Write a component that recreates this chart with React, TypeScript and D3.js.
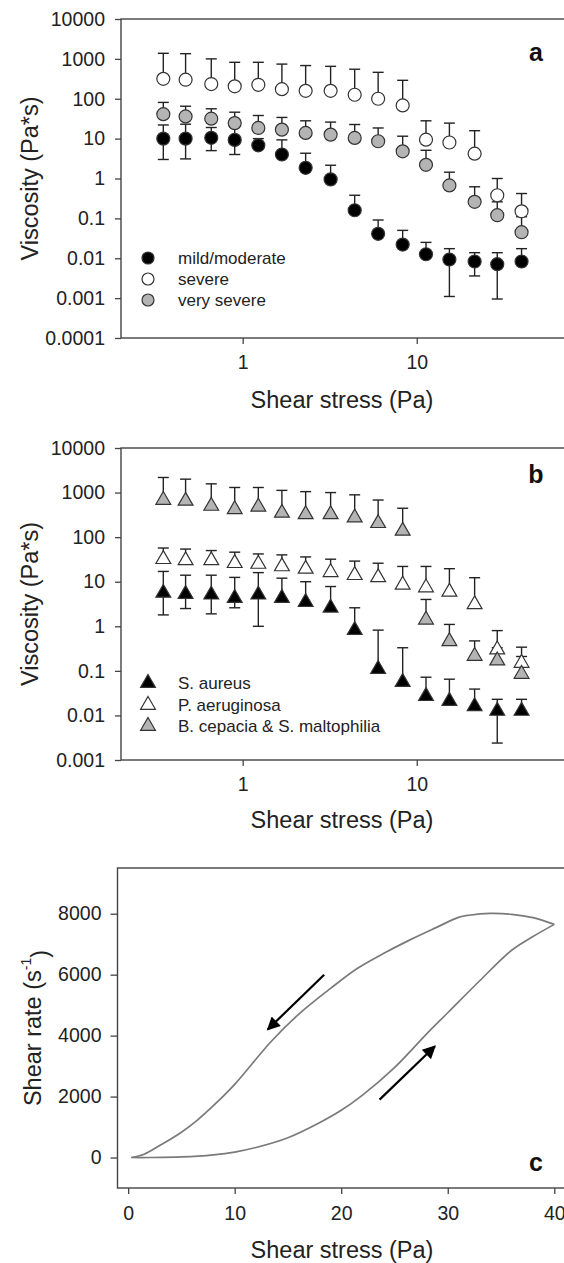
import React, { useEffect, useRef } from 'react';
import * as d3 from 'd3';

// ---------- shared x values (shear stress, Pa) ----------
const shearStress = [0.35, 0.47, 0.66, 0.9, 1.23, 1.68, 2.3, 3.2, 4.4, 6.0, 8.3, 11.3, 15.4, 21.5, 29, 40];

// ---------- panel a ----------
const mildMean = [10, 10, 10.5, 9.3, 6.8, 4.0, 1.85, 0.95, 0.16, 0.041, 0.022, 0.0126, 0.0093, 0.0083, 0.0071, 0.0083];
const mildUpper = [22, 23, 19, 20, 10, 9.3, 4.3, 2.15, 0.38, 0.091, 0.05, 0.025, 0.0174, 0.0138, 0.0138, 0.0174];
const mildLower: (number | null)[] = [3.0, 3.1, 5.0, 4.0, null, null, null, null, null, null, null, null, 0.0011, 0.0036, 0.00095, null];

const severeMean = [316, 300, 234, 205, 224, 174, 158, 158, 126, 100, 68, 9.4, 8, 4.2, 0.38, 0.15];
const severeUpper = [1380, 1350, 1000, 820, 820, 740, 680, 650, 550, 460, 290, 28, 24.5, 15.8, 1.0, 0.42];

const verySevereMean = [41, 36, 31.6, 24.5, 18.5, 16.8, 13.9, 12.6, 10.4, 8.6, 4.8, 2.2, 0.67, 0.26, 0.12, 0.045];
const verySevereUpper = [81, 65, 56, 46, 38, 34, 28, 26, 22.6, 18.5, 11.5, 5.1, 1.44, 0.62, 0.26, 0.11];

// ---------- panel b ----------
const aureusMean = [5.6, 5.3, 5.1, 4.3, 5.1, 4.3, 3.5, 2.6, 0.82, 0.11, 0.056, 0.027, 0.021, 0.016, 0.0126, 0.0126];
const aureusUpper = [17, 14, 14, 12.5, 16, 12, 10, 7.8, 2.6, 0.82, 0.33, 0.072, 0.065, 0.039, 0.023, 0.023];
const aureusLower: (number | null)[] = [1.8, 2.5, 1.9, 2.6, 1.0, null, null, null, null, null, null, null, null, null, 0.0024, null];

const aeruginosaMean = [32, 30, 30, 26, 25, 22, 19.4, 16.3, 14, 12.5, 8.5, 7.4, 5.9, 3.1, 0.3, 0.15];
const aeruginosaUpper = [57, 54, 50, 46, 42, 40, 36, 32, 29, 26, 22, 22, 19.6, 12.3, 0.8, 0.34];

const cepaciaMean = [680, 650, 500, 420, 480, 350, 325, 325, 275, 205, 138, 1.4, 0.46, 0.215, 0.17, 0.085];
const cepaciaUpper = [2180, 2000, 1570, 1300, 1300, 1120, 1050, 1000, 890, 680, 445, 4.0, 1.1, 0.47, 0.33, 0.21];

// ---------- tick values ----------
const viscTicksA = [1e-4, 1e-3, 0.01, 0.1, 1, 10, 100, 1000, 10000];
const viscLabelsA = ['0.0001', '0.001', '0.01', '0.1', '1', '10', '100', '1000', '10000'];
const viscTicksB = [1e-3, 0.01, 0.1, 1, 10, 100, 1000, 10000];
const viscLabelsB = ['0.001', '0.01', '0.1', '1', '10', '100', '1000', '10000'];
const stressLogTicks = [1, 10];
const stressLogLabels = ['1', '10'];
const rateTicks = [0, 2000, 4000, 6000, 8000];
const stressLinTicks = [0, 10, 20, 30, 40];

// ---------- panel c (hysteresis loop) ----------
const upStress = [0.3, 2, 5, 8, 10, 12, 15, 18, 20, 22, 25, 28, 30, 33, 36, 38, 40];
const upRate = [0, 0, 20, 90, 180, 330, 650, 1150, 1550, 2050, 2950, 4050, 4750, 5800, 6800, 7250, 7650];
const downStress = [40, 38, 36, 34, 32, 31, 29, 26.5, 24, 21.5, 19, 16, 13.4, 10, 8, 6.5, 5, 3, 1.5, 0.3];
const downRate = [7650, 7870, 7980, 8010, 7950, 7880, 7560, 7150, 6700, 6200, 5550, 4700, 3800, 2400, 1700, 1230, 830, 400, 110, 0];

// arrows (data units): [fromStress, fromRate, toStress, toRate]
const arrowDown = [18.4, 6000, 13.1, 4200];
const arrowUp = [23.6, 1900, 28.8, 3650];

const FONT = '"Liberation Sans", Arial, Helvetica, sans-serif';
const TICK_FS = 19.5;
const TITLE_FS = 23.5;
const LEGEND_FS = 17;
const AXIS_COLOR = '#444';
const TEXT_COLOR = '#222';

type Series = {
  name: string;
  mean: number[];
  upper: number[];
  lower?: (number | null)[];
  fill: string;
  shape: 'circle' | 'triangle';
};

export default function App() {
  const ref = useRef<SVGSVGElement>(null);

  useEffect(() => {
    const svg = d3.select(ref.current);
    svg.selectAll('*').remove();

    const defs = svg.append('defs');
    defs
      .append('marker')
      .attr('id', 'arrowhead')
      .attr('viewBox', '0 0 10 10')
      .attr('refX', 9)
      .attr('refY', 5)
      .attr('markerWidth', 7)
      .attr('markerHeight', 6)
      .attr('markerUnits', 'strokeWidth')
      .attr('orient', 'auto')
      .append('path')
      .attr('d', 'M0,0 L10,5 L0,10 Z')
      .attr('fill', '#000');

    const triSym = d3.symbol().type(d3.symbolTriangle).size(95);

    function drawMarker(g: any, shape: string, x: number, y: number, fill: string, legend = false) {
      if (shape === 'circle') {
        g.append('circle')
          .attr('cx', x)
          .attr('cy', y)
          .attr('r', legend ? 6 : 6.5)
          .attr('fill', fill)
          .attr('stroke', '#333')
          .attr('stroke-width', 1.2);
      } else {
        g.append('path')
          .attr('d', triSym() as string)
          .attr('transform', `translate(${x},${y})`)
          .attr('fill', fill)
          .attr('stroke', '#333')
          .attr('stroke-width', 1.2);
      }
    }

    function styleAxis(a: any) {
      a.select('.domain').remove();
      a.attr('font-family', FONT).attr('font-size', TICK_FS).attr('color', AXIS_COLOR);
      a.selectAll('text').attr('fill', TEXT_COLOR);
      a.selectAll('line').attr('stroke-width', 1.3);
    }

    function logPanel(opts: {
      top: number;
      bottom: number;
      yDomain: [number, number];
      yTicks: number[];
      yLabels: string[];
      series: Series[];
      letter: string;
      letterY: number;
      legendY: number[];
      xTitleY: number;
    }) {
      const left = 121;
      const right = 566;
      const x = d3.scaleLog().domain([0.2, 72]).range([left, right]);
      const y = d3.scaleLog().domain(opts.yDomain).range([opts.bottom, opts.top]);
      const g = svg.append('g');

      const ya = g
        .append('g')
        .attr('transform', `translate(${left},0)`)
        .call(
          d3
            .axisLeft(y)
            .tickValues(opts.yTicks)
            .tickFormat((_d: any, i: number) => opts.yLabels[i])
            .tickSize(6)
            .tickSizeOuter(0)
            .tickPadding(10)
        );
      styleAxis(ya);

      const xa = g
        .append('g')
        .attr('transform', `translate(0,${opts.bottom})`)
        .call(
          d3
            .axisBottom(x)
            .tickValues(stressLogTicks)
            .tickFormat((_d: any, i: number) => stressLogLabels[i])
            .tickSize(6)
            .tickSizeOuter(0)
            .tickPadding(11)
        );
      styleAxis(xa);

      g.append('rect')
        .attr('x', left)
        .attr('y', opts.top)
        .attr('width', right - left)
        .attr('height', opts.bottom - opts.top)
        .attr('fill', 'none')
        .attr('stroke', AXIS_COLOR)
        .attr('stroke-width', 1.4);

      const capW = 5.5;
      const eb = g.append('g').attr('stroke', '#222').attr('stroke-width', 1.4);
      opts.series.forEach((s) => {
        shearStress.forEach((xv, i) => {
          const px = x(xv);
          const lo = s.lower && s.lower[i] != null ? (s.lower[i] as number) : null;
          const yTop = y(s.upper[i]);
          const yBot = lo != null ? y(lo) : y(s.mean[i]);
          eb.append('line').attr('x1', px).attr('x2', px).attr('y1', yTop).attr('y2', yBot);
          eb.append('line').attr('x1', px - capW).attr('x2', px + capW).attr('y1', yTop).attr('y2', yTop);
          if (lo != null) {
            eb.append('line').attr('x1', px - capW).attr('x2', px + capW).attr('y1', yBot).attr('y2', yBot);
          }
        });
      });

      const mk = g.append('g');
      opts.series.forEach((s) => {
        shearStress.forEach((xv, i) => {
          drawMarker(mk, s.shape, x(xv), y(s.mean[i]), s.fill);
        });
      });

      const lg = g.append('g');
      opts.series.forEach((s, i) => {
        drawMarker(lg, s.shape, 148, opts.legendY[i], s.fill, true);
        lg.append('text')
          .attr('x', 178)
          .attr('y', opts.legendY[i])
          .attr('dy', '0.35em')
          .attr('font-family', FONT)
          .attr('font-size', LEGEND_FS)
          .attr('fill', TEXT_COLOR)
          .text(s.name);
      });

      g.append('text')
        .attr('x', 536)
        .attr('y', opts.letterY)
        .attr('text-anchor', 'middle')
        .attr('font-family', FONT)
        .attr('font-weight', 'bold')
        .attr('font-size', 25)
        .attr('fill', '#111')
        .text(opts.letter);

      g.append('text')
        .attr('transform', `translate(30,${(opts.top + opts.bottom) / 2}) rotate(-90)`)
        .attr('text-anchor', 'middle')
        .attr('dy', '0.35em')
        .attr('font-family', FONT)
        .attr('font-size', TITLE_FS)
        .attr('fill', TEXT_COLOR)
        .text('Viscosity (Pa*s)');
      g.append('text')
        .attr('x', 342)
        .attr('y', opts.xTitleY)
        .attr('text-anchor', 'middle')
        .attr('dy', '0.35em')
        .attr('font-family', FONT)
        .attr('font-size', TITLE_FS)
        .attr('fill', TEXT_COLOR)
        .text('Shear stress (Pa)');
    }

    logPanel({
      top: 19,
      bottom: 338,
      yDomain: [1e-4, 1e4],
      yTicks: viscTicksA,
      yLabels: viscLabelsA,
      series: [
        { name: 'mild/moderate', mean: mildMean, upper: mildUpper, lower: mildLower, fill: '#000', shape: 'circle' },
        { name: 'severe', mean: severeMean, upper: severeUpper, fill: '#fff', shape: 'circle' },
        { name: 'very severe', mean: verySevereMean, upper: verySevereUpper, fill: '#b4b4b4', shape: 'circle' },
      ],
      letter: 'a',
      letterY: 61,
      legendY: [258, 279, 300],
      xTitleY: 400,
    });

    logPanel({
      top: 448,
      bottom: 760,
      yDomain: [1e-3, 1e4],
      yTicks: viscTicksB,
      yLabels: viscLabelsB,
      series: [
        { name: 'S. aureus', mean: aureusMean, upper: aureusUpper, lower: aureusLower, fill: '#000', shape: 'triangle' },
        { name: 'P. aeruginosa', mean: aeruginosaMean, upper: aeruginosaUpper, fill: '#fff', shape: 'triangle' },
        { name: 'B. cepacia & S. maltophilia', mean: cepaciaMean, upper: cepaciaUpper, fill: '#b4b4b4', shape: 'triangle' },
      ],
      letter: 'b',
      letterY: 483,
      legendY: [683, 705, 726],
      xTitleY: 820,
    });

    // ---------- panel c ----------
    {
      const left = 117.5;
      const right = 566;
      const top = 868;
      const bottom = 1188;
      const x = d3.scaleLinear().domain([-1, 41.1]).range([left, right]);
      const y = d3.scaleLinear().domain([-1000, 9500]).range([bottom, top]);
      const g = svg.append('g');

      const ya = g
        .append('g')
        .attr('transform', `translate(${left},0)`)
        .call(d3.axisLeft(y).tickValues(rateTicks).tickFormat(d3.format('d')).tickSize(7).tickSizeOuter(0).tickPadding(9));
      styleAxis(ya);

      const xa = g
        .append('g')
        .attr('transform', `translate(0,${bottom})`)
        .call(d3.axisBottom(x).tickValues(stressLinTicks).tickFormat(d3.format('d')).tickSize(6).tickSizeOuter(0).tickPadding(12));
      styleAxis(xa);

      g.append('rect')
        .attr('x', left)
        .attr('y', top)
        .attr('width', right - left)
        .attr('height', bottom - top)
        .attr('fill', 'none')
        .attr('stroke', AXIS_COLOR)
        .attr('stroke-width', 1.4);

      const pl = d3.line().curve(d3.curveCatmullRom.alpha(0.5));
      const upPts = upStress.map((s, i) => [x(s), y(upRate[i])] as [number, number]);
      const downPts = downStress.map((s, i) => [x(s), y(downRate[i])] as [number, number]);
      g.append('path').attr('d', pl(upPts) as string).attr('fill', 'none').attr('stroke', '#7a7a7a').attr('stroke-width', 1.7);
      g.append('path').attr('d', pl(downPts) as string).attr('fill', 'none').attr('stroke', '#7a7a7a').attr('stroke-width', 1.7);

      [arrowDown, arrowUp].forEach((a) => {
        g.append('line')
          .attr('x1', x(a[0]))
          .attr('y1', y(a[1]))
          .attr('x2', x(a[2]))
          .attr('y2', y(a[3]))
          .attr('stroke', '#000')
          .attr('stroke-width', 2.2)
          .attr('marker-end', 'url(#arrowhead)');
      });

      g.append('text')
        .attr('x', 536)
        .attr('y', 1171)
        .attr('text-anchor', 'middle')
        .attr('font-family', FONT)
        .attr('font-weight', 'bold')
        .attr('font-size', 25)
        .attr('fill', '#111')
        .text('c');

      const yt = g
        .append('text')
        .attr('transform', `translate(33,${(top + bottom) / 2}) rotate(-90)`)
        .attr('text-anchor', 'middle')
        .attr('dy', '0.35em')
        .attr('font-family', FONT)
        .attr('font-size', TITLE_FS)
        .attr('fill', TEXT_COLOR);
      yt.append('tspan').text('Shear rate (s');
      yt.append('tspan').attr('font-size', 14).attr('dy', '-0.7em').text('-1');
      yt.append('tspan').attr('dy', '0.7em').text(')');

      g.append('text')
        .attr('x', 342)
        .attr('y', 1250)
        .attr('text-anchor', 'middle')
        .attr('dy', '0.35em')
        .attr('font-family', FONT)
        .attr('font-size', TITLE_FS)
        .attr('fill', TEXT_COLOR)
        .text('Shear stress (Pa)');
    }
  }, []);

  return (
    <svg
      ref={ref}
      width={564}
      height={1263}
      style={{ position: 'absolute', left: 0, top: 0, background: '#fff' }}
    />
  );
}
